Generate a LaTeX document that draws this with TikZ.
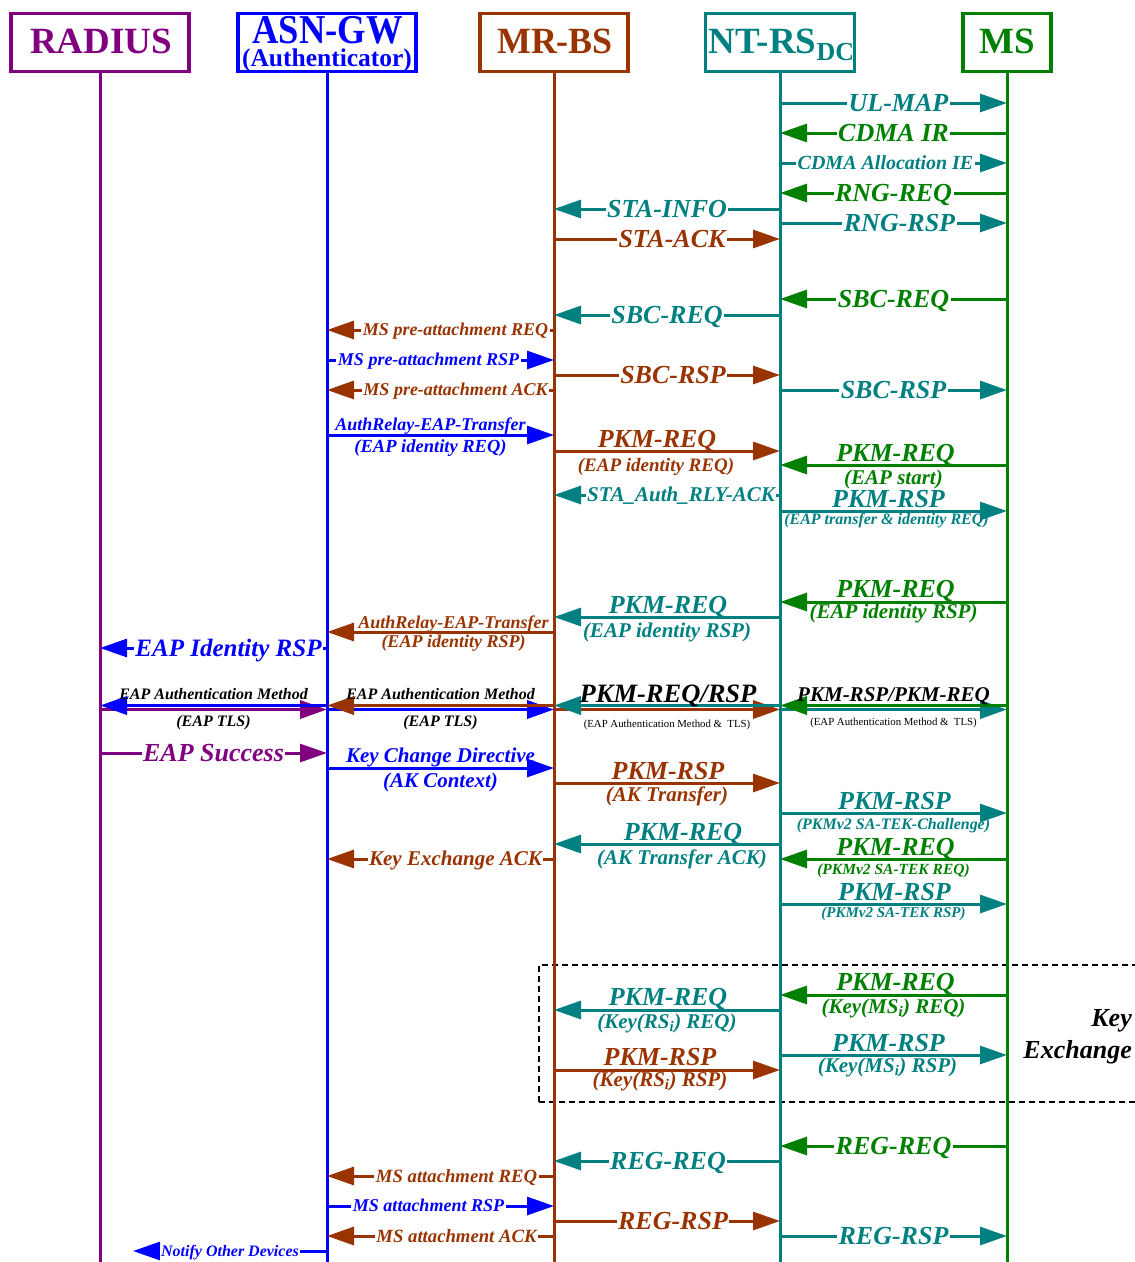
\documentclass[tikz,border=0pt]{standalone}
\usepackage{fontspec}
\setmainfont{Liberation Serif}
\usepackage{graphicx}
\usetikzlibrary{arrows.meta}
\definecolor{cR}{HTML}{800080}
\definecolor{cA}{HTML}{0000FF}
\definecolor{cM}{HTML}{993300}
\definecolor{cN}{HTML}{008080}
\definecolor{cS}{HTML}{008000}
\newcommand\fsz[1]{\fontsize{#1}{#1}\selectfont}
\begin{document}
\begin{tikzpicture}[x=1pt,y=-1pt,
  hdbox/.style={draw, line width=3.2pt, inner sep=0pt, minimum height=58pt},
  hdtxt/.style={inner sep=0pt, anchor=base, font={\fsz{#1}\bfseries}},
  life/.style={line width=3pt},
  msg/.style={line width=3pt, -{Triangle[length=27pt,width=18pt]}},
  dbl/.style={line width=3.6pt, -{Triangle[length=27pt,width=18pt]}},
  onlab/.style={fill=white, inner xsep=1.5pt, inner ysep=0pt, anchor=base,
    yshift=-0.33*#1pt, font={\fsz{#1}\bfseries\itshape}},
  uplab/.style={inner sep=0pt, anchor=base, yshift=4pt, font={\fsz{#1}\bfseries\itshape}},
  lolab/.style 2 args={inner sep=0pt, anchor=base, yshift=-#2pt, font={\fsz{#1}\bfseries\itshape}},
  tinylab/.style={inner sep=0pt, anchor=base, text=black, font={\fsz{10.8}}},
  keyframe/.style={draw=black, line width=2.8pt, dash pattern=on 6pt off 4pt, inner sep=0pt}
]
\useasboundingbox (0,0) rectangle (1135,1262);
\clip (0,0) rectangle (1135,1262);

% participant boxes
\node[hdbox, cR, minimum width=178pt] (rad)  at (100,42.5) {};
\node[hdbox, cA, minimum width=178pt] (asn)  at (327,42.5) {};
\node[hdbox, cM, minimum width=148pt] (mrbs) at (554,42.5) {};
\node[hdbox, cN, minimum width=149pt] (ntrs) at (780,42.5) {};
\node[hdbox, cS, minimum width=88pt]  (ms)   at (1007,42.5) {};

\node[hdtxt=37, cR] (radT) at (101,53.5) {RADIUS};
\node[hdtxt=41, cA] (asnT) at (327.5,43) {\scalebox{0.89}[1]{ASN-GW}};
\node[hdtxt=25.5, cA] (asnS) at (327,66) {(Authenticator)};
\node[hdtxt=37, cM] (mrbsT) at (555,53.5) {\scalebox{0.97}[1]{MR-BS}};
\node[hdtxt=37, cN] (ntrsT) at (781.5,53.5) {NT-RS{\fsz{26}\raisebox{-6.5pt}{DC}}};
\node[hdtxt=37, cS] (msT) at (1007.5,53.5) {MS};

% key exchange frame
\node[keyframe, minimum width=606pt, minimum height=137pt] (kx) at (842,1033.5) {};
\node[inner sep=0pt, anchor=base east, font={\fsz{26}\bfseries\itshape}] (kxa) at (1132,1026) {Key};
\node[inner sep=0pt, anchor=base east, font={\fsz{26}\bfseries\itshape}] (kxb) at (1132,1058) {Exchange};

% lifelines
\draw[life, cR] (rad.south)  -- (rad |- 0,1262);
\draw[life, cA] (asn.south)  -- (asn |- 0,1262);
\draw[life, cM] (mrbs.south) -- (mrbs |- 0,1262);
\draw[life, cN] (ntrs.south) -- (ntrs |- 0,1262);
\draw[life, cS] (ms.south)   -- (ms |- 0,1262);

% ranging and basic capability
\draw[msg,cN] (ntrs |- 0,103) -- node[onlab=26,xshift=5pt]{UL-MAP} (ms |- 0,103);
\draw[msg,cS] (ms |- 0,133) -- node[onlab=26]{CDMA IR} (ntrs |- 0,133);
\draw[msg,cN] (ntrs |- 0,163) -- node[onlab=20,xshift=-8pt]{CDMA Allocation IE} (ms |- 0,163);
\draw[msg,cS] (ms |- 0,193) -- node[onlab=26]{RNG-REQ} (ntrs |- 0,193);
\draw[msg,cN] (ntrs |- 0,209) -- node[onlab=26]{STA-INFO} (mrbs |- 0,209);
\draw[msg,cN] (ntrs |- 0,223) -- node[onlab=26,xshift=6pt]{RNG-RSP} (ms |- 0,223);
\draw[msg,cM] (mrbs |- 0,239) -- node[onlab=26,xshift=5pt]{STA-ACK} (ntrs |- 0,239);
\draw[msg,cS] (ms |- 0,299) -- node[onlab=26]{SBC-REQ} (ntrs |- 0,299);
\draw[msg,cN] (ntrs |- 0,315) -- node[onlab=26]{SBC-REQ} (mrbs |- 0,315);
\draw[msg,cM] (mrbs |- 0,330) -- node[onlab=18,xshift=15pt]{MS pre-attachment REQ} (asn |- 0,330);
\draw[msg,cA] (asn |- 0,360) -- node[onlab=18,xshift=-12pt]{MS pre-attachment RSP} (mrbs |- 0,360);
\draw[msg,cM] (mrbs |- 0,375) -- node[onlab=26,xshift=6pt]{SBC-RSP} (ntrs |- 0,375);
\draw[msg,cM] (mrbs |- 0,390) -- node[onlab=18,xshift=15pt]{MS pre-attachment ACK} (asn |- 0,390);
\draw[msg,cN] (ntrs |- 0,390) -- node[onlab=26]{SBC-RSP} (ms |- 0,390);

% EAP identity exchange
\draw[msg,cA] (asn |- 0,435) -- node[uplab=18,xshift=-10pt,yshift=1pt]{AuthRelay-EAP-Transfer}
  node[lolab={18.5}{17},xshift=-10pt]{(EAP identity REQ)} (mrbs |- 0,435);
\draw[msg,cM] (mrbs |- 0,451) -- node[uplab=26,xshift=-10pt]{PKM-REQ}
  node[lolab={19}{20},xshift=-11pt]{(EAP identity REQ)} (ntrs |- 0,451);
\draw[msg,cS] (ms |- 0,465) -- node[uplab=26,xshift=2pt]{PKM-REQ}
  node[lolab={21}{19}]{(EAP start)} (ntrs |- 0,465);
\draw[msg,cN] (ntrs |- 0,495) -- node[onlab=21,xshift=14pt]{STA\_Auth\_RLY-ACK} (mrbs |- 0,495);
\draw[msg,cN] (ntrs |- 0,511) -- node[uplab=26,xshift=-5pt]{PKM-RSP}
  node[lolab={16}{13},xshift=-7pt]{(EAP transfer \& identity REQ)} (ms |- 0,511);
\draw[msg,cS] (ms |- 0,602) -- node[uplab=26,xshift=2pt,yshift=1pt]{PKM-REQ}
  node[lolab={21}{16.5}]{(EAP identity RSP)} (ntrs |- 0,602);
\draw[msg,cN] (ntrs |- 0,617) -- node[uplab=26,xshift=1pt]{PKM-REQ}
  node[lolab={21}{20}]{(EAP identity RSP)} (mrbs |- 0,617);
\draw[msg,cM] (mrbs |- 0,632) -- node[uplab=18,xshift=13pt]{AuthRelay-EAP-Transfer}
  node[lolab={18}{15},xshift=13pt]{(EAP identity RSP)} (asn |- 0,632);
\draw[msg,cA] (asn |- 0,648) -- node[onlab=25,xshift=15pt]{EAP Identity RSP} (rad |- 0,648);

% EAP authentication method (both directions)
\draw[dbl,cR] (rad |- 0,709.5) -- (asn |- 0,709.5);
\draw[dbl,cA] (asn |- 0,705.5) -- node[uplab=16,text=black,yshift=2pt]{EAP Authentication Method}
  node[lolab={16}{21},text=black]{(EAP TLS)} (rad |- 0,705.5);
\draw[dbl,cA] (asn |- 0,709.5) -- (mrbs |- 0,709.5);
\draw[dbl,cM] (mrbs |- 0,705.5) -- node[uplab=16,text=black,yshift=2pt]{EAP Authentication Method}
  node[lolab={16}{21},text=black]{(EAP TLS)} (asn |- 0,705.5);
\draw[dbl,cM] (mrbs |- 0,709.5) -- (ntrs |- 0,709.5);
\draw[dbl,cN] (ntrs |- 0,705.5) -- node[uplab=26.5,text=black,yshift=-1pt,xshift=1pt]{PKM-REQ/RSP}
  node[tinylab,yshift=-21.5pt]{(EAP Authentication Method \&\ \ TLS)} (mrbs |- 0,705.5);
\draw[dbl,cN] (ntrs |- 0,709.5) -- (ms |- 0,709.5);
\draw[dbl,cS] (ms |- 0,705.5) -- node[uplab=21,text=black]{PKM-RSP/PKM-REQ}
  node[tinylab,yshift=-19.5pt]{(EAP Authentication Method \&\ \ TLS)} (ntrs |- 0,705.5);

% key transfer and SA-TEK
\draw[msg,cR] (rad |- 0,753) -- node[onlab=26]{EAP Success} (asn |- 0,753);
\draw[msg,cA] (asn |- 0,768) -- node[uplab=21,yshift=2pt]{Key Change Directive}
  node[lolab={21}{19}]{(AK Context)} (mrbs |- 0,768);
\draw[msg,cM] (mrbs |- 0,783) -- node[uplab=26,xshift=1pt]{PKM-RSP}
  node[lolab={21}{18}]{(AK Transfer)} (ntrs |- 0,783);
\draw[msg,cN] (ntrs |- 0,813) -- node[uplab=26,xshift=1pt]{PKM-RSP}
  node[lolab={16}{16}]{(PKMv2 SA-TEK-Challenge)} (ms |- 0,813);
\draw[msg,cN] (ntrs |- 0,844) -- node[uplab=26,xshift=16pt]{PKM-REQ}
  node[lolab={21}{20},xshift=15pt]{(AK Transfer ACK)} (mrbs |- 0,844);
\draw[msg,cM] (mrbs |- 0,859) -- node[onlab=21,xshift=15pt]{Key Exchange ACK} (asn |- 0,859);
\draw[msg,cS] (ms |- 0,859) -- node[uplab=26,xshift=2pt]{PKM-REQ}
  node[lolab={15.5}{15}]{(PKMv2 SA-TEK REQ)} (ntrs |- 0,859);
\draw[msg,cN] (ntrs |- 0,904) -- node[uplab=26,xshift=1pt]{PKM-RSP}
  node[lolab={15}{13}]{(PKMv2 SA-TEK RSP)} (ms |- 0,904);

% key exchange
\draw[msg,cS] (ms |- 0,995) -- node[uplab=26,xshift=2pt,yshift=1pt]{PKM-REQ}
  node[lolab={21}{18}]{(Key(MS\textsubscript{i}) REQ)} (ntrs |- 0,995);
\draw[msg,cN] (ntrs |- 0,1010) -- node[uplab=26,xshift=1pt,yshift=1pt]{PKM-REQ}
  node[lolab={21}{18}]{(Key(RS\textsubscript{i}) REQ)} (mrbs |- 0,1010);
\draw[msg,cN] (ntrs |- 0,1055) -- node[uplab=26,xshift=-5pt]{PKM-RSP}
  node[lolab={21}{17},xshift=-6pt]{(Key(MS\textsubscript{i}) RSP)} (ms |- 0,1055);
\draw[msg,cM] (mrbs |- 0,1070) -- node[uplab=26,xshift=-7pt,yshift=1pt]{PKM-RSP}
  node[lolab={21}{16},xshift=-7pt]{(Key(RS\textsubscript{i}) RSP)} (ntrs |- 0,1070);

% registration and attachment
\draw[msg,cS] (ms |- 0,1146) -- node[onlab=26]{REG-REQ} (ntrs |- 0,1146);
\draw[msg,cN] (ntrs |- 0,1161) -- node[onlab=26,xshift=1pt]{REG-REQ} (mrbs |- 0,1161);
\draw[msg,cM] (mrbs |- 0,1176) -- node[onlab=18.7,xshift=16pt]{MS attachment REQ} (asn |- 0,1176);
\draw[msg,cA] (asn |- 0,1206) -- node[onlab=18,xshift=-12pt]{MS attachment RSP} (mrbs |- 0,1206);
\draw[msg,cM] (mrbs |- 0,1221) -- node[onlab=26,xshift=6pt]{REG-RSP} (ntrs |- 0,1221);
\draw[msg,cM] (mrbs |- 0,1236) -- node[onlab=18.7,xshift=16pt]{MS attachment ACK} (asn |- 0,1236);
\draw[msg,cN] (ntrs |- 0,1236) -- node[onlab=26]{REG-RSP} (ms |- 0,1236);
\coordinate (notify) at (133,1251);
\draw[msg,cA] (asn |- 0,1251) -- node[onlab=16]{Notify Other Devices} (notify);
\end{tikzpicture}
\end{document}
